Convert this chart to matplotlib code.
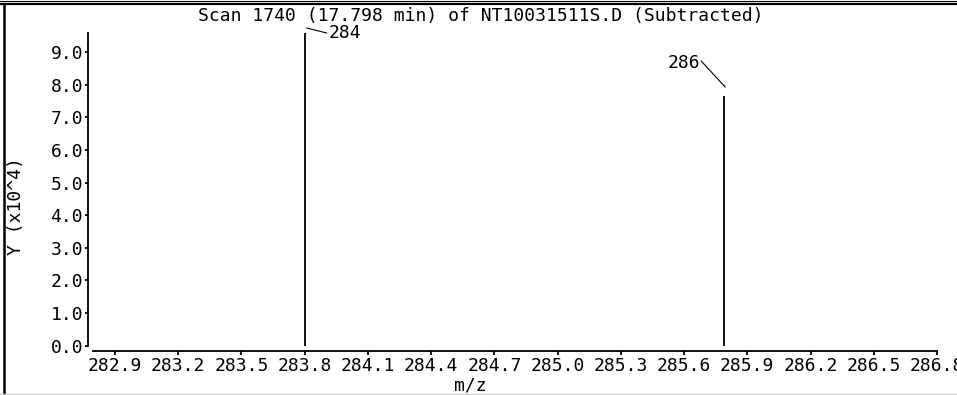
import matplotlib
matplotlib.use("Agg")
import matplotlib.pyplot as plt
import matplotlib.lines as mlines

# ---- data ----
title = "Scan 1740 (17.798 min) of NT10031511S.D (Subtracted)"
peak_mz = [283.80, 285.79]
peak_int = [9.59, 7.66]          # x10^4
peak_labels = ["284", "286"]
xticks = [282.9, 283.2, 283.5, 283.8, 284.1, 284.4, 284.7, 285.0,
          285.3, 285.6, 285.9, 286.2, 286.5, 286.8]
xtick_labels = ["282.9", "283.2", "283.5", "283.8", "284.1", "284.4", "284.7",
                "285.0", "285.3", "285.6", "285.9", "286.2", "286.5", "286.8"]
yticks = [0, 1, 2, 3, 4, 5, 6, 7, 8, 9]
ytick_labels = ["0.0", "1.0", "2.0", "3.0", "4.0", "5.0", "6.0", "7.0", "8.0", "9.0"]

W, H = 957, 395
fig = plt.figure(figsize=(W / 100, H / 100), dpi=100)
FONT = "DejaVu Sans Mono"
FS = 13

# axes in pixel placement
left_px, right_px = 88, 937
top_px, bot_px = 33, 345.7
ax = fig.add_axes([left_px / W, (H - bot_px) / H,
                   (right_px - left_px) / W, (bot_px - top_px) / H])
ax.set_xlim(282.772, 286.80)
ax.set_ylim(0, 9.59)

ax.vlines(peak_mz, 0, peak_int, colors="black", linewidth=1.3)

for sp in ["top", "right"]:
    ax.spines[sp].set_visible(False)
ax.spines["left"].set_linewidth(1.3)
ax.spines["bottom"].set_linewidth(1.3)
ax.spines["bottom"].set_position(("outward", 3.6))
ax.spines["bottom"].set_bounds(282.796, 286.80)

ax.set_xticks(xticks)
ax.set_xticklabels(xtick_labels, fontfamily=FONT, fontsize=FS)
ax.set_yticks(yticks)
ax.set_yticklabels(ytick_labels, fontfamily=FONT, fontsize=FS)
ax.tick_params(axis="x", direction="out", length=3, width=1.3, pad=1.5)
ax.tick_params(axis="y", direction="out", length=2.5, width=1.3, pad=1)

fig.text(470 / W, 1 - 385 / H, "m/z", ha="center", va="center",
         fontfamily=FONT, fontsize=FS)
fig.text(16 / W, 1 - 206 / H, "Y (x10^4)", ha="center", va="center",
         rotation=90, fontfamily=FONT, fontsize=FS)

# peak labels with leader lines
p0 = ax.transData.transform((peak_mz[0], peak_int[0]))
fig.text((p0[0] + 24) / W, p0[1] / H, peak_labels[0], ha="left", va="center",
         fontfamily=FONT, fontsize=FS)
fig.add_artist(mlines.Line2D([(p0[0] + 2) / W, (p0[0] + 22) / W],
                             [(p0[1] + 5) / H, (p0[1] + 0) / H],
                             color="black", linewidth=0.8))

p1 = ax.transData.transform((peak_mz[1], peak_int[1]))
fig.text((p1[0] - 24) / W, (p1[1] + 33) / H, peak_labels[1], ha="right",
         va="center", fontfamily=FONT, fontsize=FS)
fig.add_artist(mlines.Line2D([(p1[0] - 23) / W, (p1[0] + 1) / W],
                             [(p1[1] + 35) / H, (p1[1] + 9) / H],
                             color="black", linewidth=0.8))

fig.text(481 / W, (H - 16) / H, title, ha="center", va="center",
         fontfamily=FONT, fontsize=FS)

# frame
fig.add_artist(mlines.Line2D([0, 1], [1 - 0.5 / H, 1 - 0.5 / H], color="black", linewidth=0.8))
fig.add_artist(mlines.Line2D([0, 1], [1 - 3.5 / H, 1 - 3.5 / H], color="black", linewidth=1.6))
fig.add_artist(mlines.Line2D([4 / W, 4 / W], [0, 1 - 3.5 / H], color="black", linewidth=1.8))
fig.add_artist(mlines.Line2D([0, 1], [1.5 / H, 1.5 / H], color="#cccccc", linewidth=1.0))

fig.savefig("out.png", dpi=100)
